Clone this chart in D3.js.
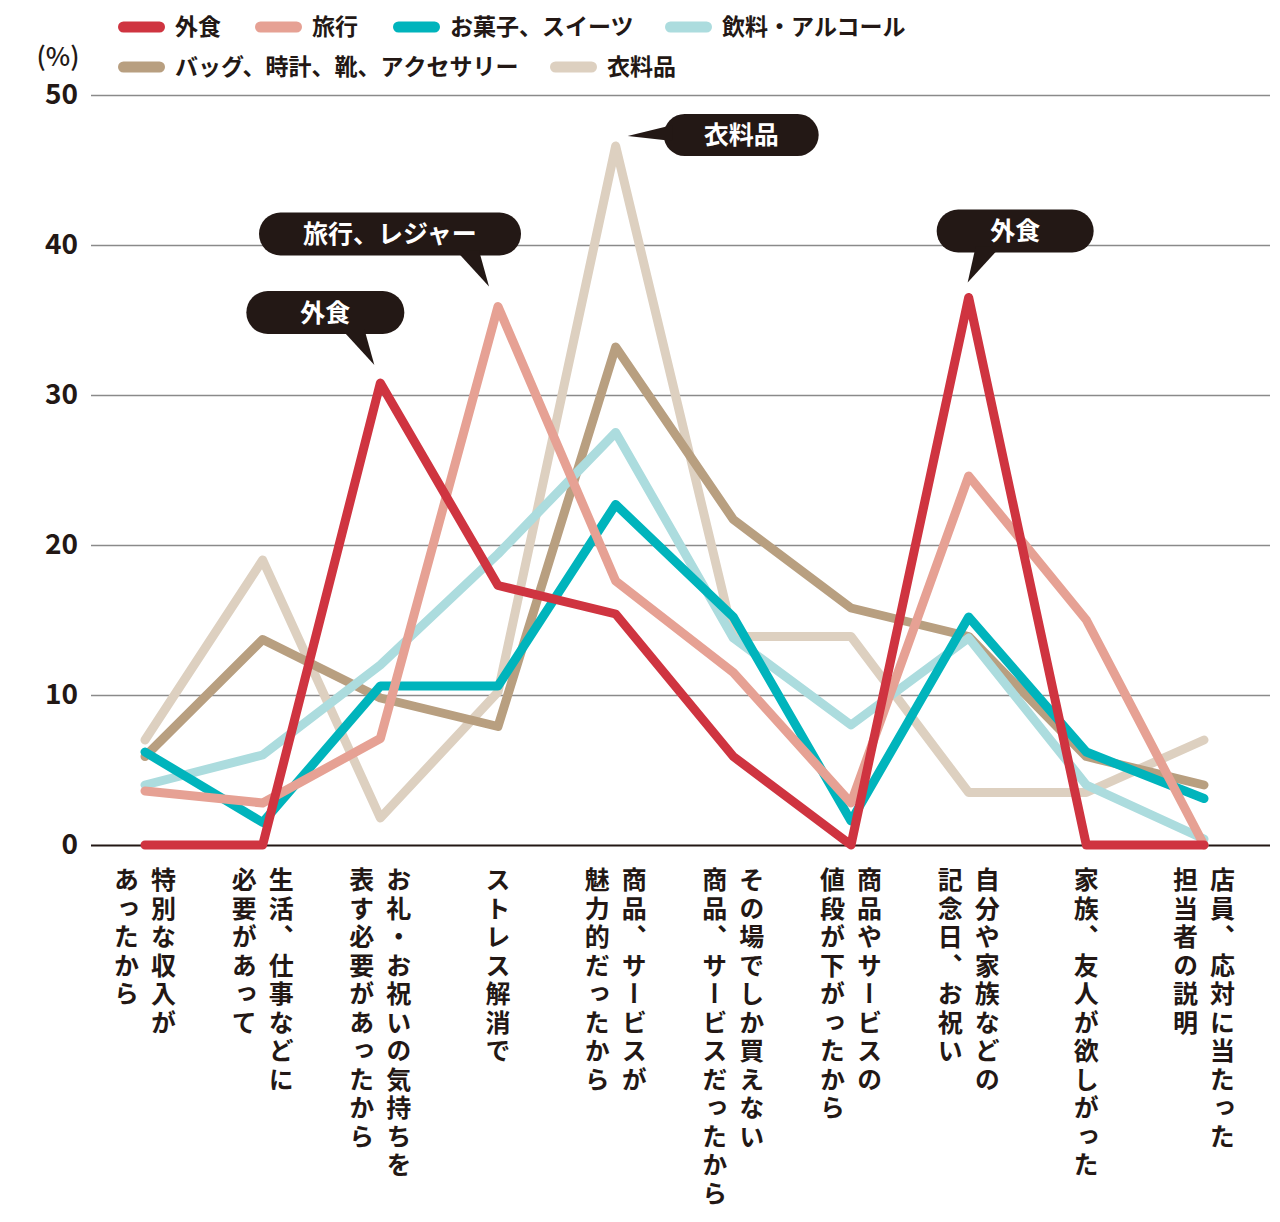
<!DOCTYPE html>
<html>
<head>
<meta charset="utf-8">
<script src="https://cdn.jsdelivr.net/npm/d3@7"></script>
<style>
  html, body { margin: 0; padding: 0; background: #fff; }
  svg { display: block; }
  text { font-family: "Noto Sans CJK JP", "Noto Sans", sans-serif; }
</style>
</head>
<body>
<svg id="chart" width="1280" height="1222"></svg>
<script>
// ---- data ----
const categories = [
  ["特別な収入が", "あったから"],
  ["生活、仕事などに", "必要があって"],
  ["お礼・お祝いの気持ちを", "表す必要があったから"],
  ["ストレス解消で"],
  ["商品、サービスが", "魅力的だったから"],
  ["その場でしか買えない", "商品、サービスだったから"],
  ["商品やサービスの", "値段が下がったから"],
  ["自分や家族などの", "記念日、お祝い"],
  ["家族、友人が欲しがった"],
  ["店員、応対に当たった", "担当者の説明"]
];
const seriesNames = ["外食", "旅行", "お菓子、スイーツ", "飲料・アルコール", "バッグ、時計、靴、アクセサリー", "衣料品"];
const seriesColors = ["#cf3440", "#e6a194", "#00b4bc", "#acdcde", "#b89f80", "#ddd0c0"];
const gaishoku = [0, 0, 30.8, 17.3, 15.4, 5.9, 0, 36.5, 0, 0];
const ryokou   = [3.6, 2.8, 7.1, 35.9, 17.6, 11.5, 2.8, 24.6, 15.0, 0];
const okashi   = [6.2, 1.5, 10.6, 10.6, 22.7, 15.2, 1.6, 15.2, 6.2, 3.1];
const inryou   = [4.0, 6.0, 12.0, 19.4, 27.5, 13.8, 8.0, 13.8, 4.0, 0.4];
const bag      = [5.9, 13.7, 9.8, 7.9, 33.2, 21.7, 15.8, 13.9, 5.9, 4.0];
const iryou    = [7.0, 19.0, 1.8, 10.2, 46.6, 13.9, 13.9, 3.5, 3.5, 7.0];
const seriesValues = [gaishoku, ryokou, okashi, inryou, bag, iryou];
const yTicks = [0, 10, 20, 30, 40, 50];
const callouts = [
  { series: 5, index: 4, text: "衣料品" },
  { series: 1, index: 3, text: "旅行、レジャー" },
  { series: 0, index: 2, text: "外食" },
  { series: 0, index: 7, text: "外食" }
];

// ---- layout ----
const svg = d3.select("#chart");
const x = d3.scalePoint().domain(d3.range(categories.length)).range([145, 1204]);
const y = d3.scaleLinear().domain([0, 50]).range([845, 95]);
const gridLeft = 91, gridRight = 1270;

// gridlines
const yAxis = d3.axisLeft(y).tickValues(yTicks).tickSize(-(gridRight - gridLeft)).tickPadding(13);
const gAxis = svg.append("g").attr("transform", `translate(${gridLeft},0)`).call(yAxis);
gAxis.select(".domain").remove();
gAxis.selectAll(".tick line")
  .attr("stroke", d => d === 0 ? "#231815" : "#8a8a8a")
  .attr("stroke-width", d => d === 0 ? 2.2 : 1.4);
gAxis.selectAll(".tick text")
  .attr("fill", "#231815")
  .style("font-size", "28px")
  .style("font-weight", 700)
  .style("font-family", "'Noto Sans CJK JP', sans-serif");

svg.append("text").attr("x", 58).attr("y", 57).attr("dy", "0.36em").attr("text-anchor", "middle")
  .attr("fill", "#231815").style("font-size", "26px").style("font-weight", 500).text("(%)");

// lines (drawn in reverse so 外食 is on top)
const line = d3.line().x((d, i) => x(i)).y(d => y(d));
const order = d3.range(seriesValues.length).reverse();
svg.append("g").selectAll("path").data(order).join("path")
  .attr("d", s => line(seriesValues[s]))
  .attr("fill", "none")
  .attr("stroke", s => seriesColors[s])
  .attr("stroke-width", 9)
  .attr("stroke-linejoin", "round")
  .attr("stroke-linecap", "round");

// legend
const legendItems = [
  { s: 0, x: 118, y: 27 }, { s: 1, x: 255, y: 27 }, { s: 2, x: 393, y: 27 }, { s: 3, x: 665, y: 27 },
  { s: 4, x: 118, y: 67 }, { s: 5, x: 550, y: 67 }
];
const lg = svg.append("g").selectAll("g").data(legendItems).join("g")
  .attr("transform", d => `translate(${d.x},${d.y})`);
lg.append("rect").attr("x", 0).attr("y", -5.5).attr("width", 47).attr("height", 11).attr("rx", 5.5)
  .attr("fill", d => seriesColors[d.s]);
lg.append("text").attr("x", 57).attr("y", 0).attr("dy", "0.36em")
  .attr("fill", "#231815").style("font-size", "23px").style("font-weight", 700)
  .text(d => seriesNames[d.s]);

// category labels (vertical)
const catG = svg.append("g").selectAll("g").data(categories).join("g")
  .attr("transform", (d, i) => `translate(${x(i)},867)`);
catG.each(function (lines) {
  const n = lines.length;
  d3.select(this).selectAll("text").data(lines).join("text")
    .attr("x", (d, j) => n === 1 ? 0 : (j === 0 ? 18.5 : -18.5))
    .attr("y", 0)
    .style("writing-mode", "vertical-rl")
    .style("font-size", "25px")
    .style("font-weight", 700)
    .style("letter-spacing", "3.5px")
    .attr("fill", "#231815")
    .text(d => d);
});

// callouts
const calloutGeom = {
  "衣料品":      { tdx: 12, tdy: -10, px: 36, py: -22, w: 155, h: 42, base: [[45, -11], [45, 5]] },
  "旅行、レジャー": { tdx: -9, tdy: -20, px: -230, py: -74, w: 262, h: 43, base: [[-33, -36], [-10, -36]] },
  "外食2":       { tdx: -6, tdy: -18, px: -128, py: -74, w: 158, h: 43, base: [[-33, -36], [-10, -36]] },
  "外食7":       { tdx: -1, tdy: -15, px: -31, py: -73, w: 157, h: 43, base: [[8, -36], [33, -36]] }
};
const cg = svg.append("g").selectAll("g").data(callouts).join("g");
cg.each(function (c) {
  const key = c.text === "外食" ? "外食" + c.index : c.text;
  const g = calloutGeom[key];
  const tx = x(c.index) + g.tdx, ty = y(seriesValues[c.series][c.index]) + g.tdy;
  const sel = d3.select(this);
  sel.append("rect").attr("x", tx + g.px).attr("y", ty + g.py).attr("width", g.w).attr("height", g.h)
    .attr("rx", g.h / 2).attr("fill", "#231815");
  sel.append("path")
    .attr("d", `M${tx},${ty}L${tx + g.base[0][0]},${ty + g.base[0][1]}L${tx + g.base[1][0]},${ty + g.base[1][1]}Z`)
    .attr("fill", "#231815");
  sel.append("text").attr("x", tx + g.px + g.w / 2).attr("y", ty + g.py + g.h / 2).attr("dy", "0.36em")
    .attr("text-anchor", "middle").attr("fill", "#fff")
    .style("font-size", "25px").style("font-weight", 700).text(c.text);
});
</script>
</body>
</html>
